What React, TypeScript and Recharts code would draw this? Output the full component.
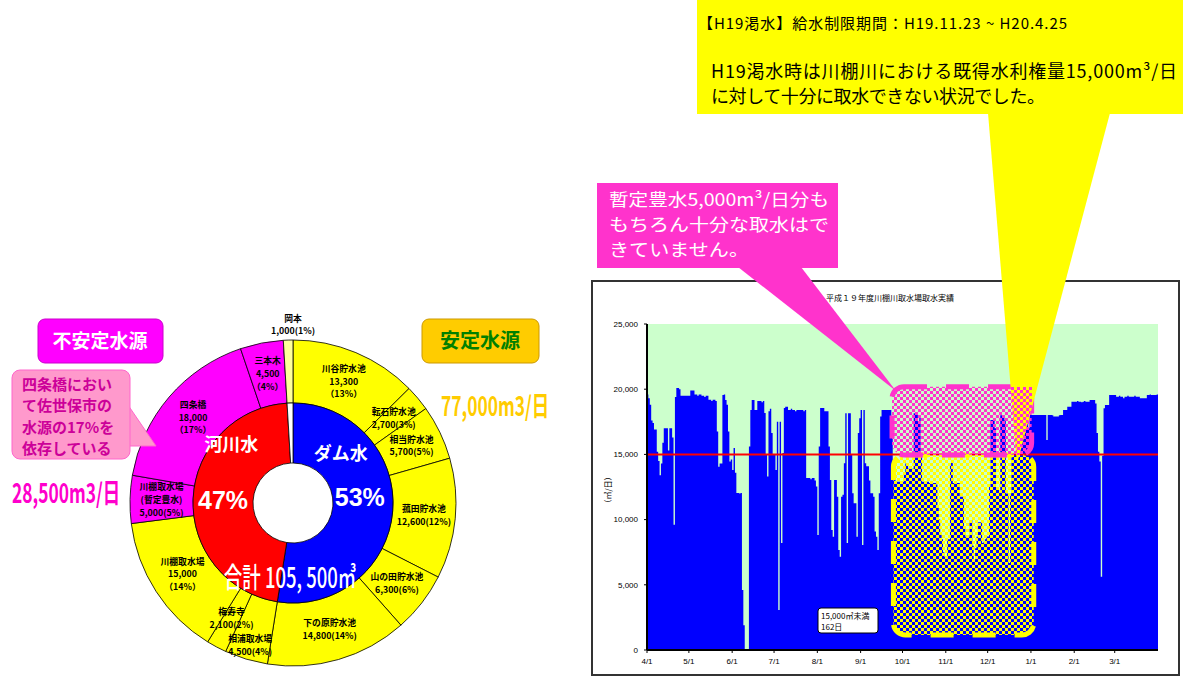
import React from 'react'
import {
  PieChart, Pie, Cell, ComposedChart, Area, XAxis, YAxis, CartesianGrid,
  ReferenceLine, ReferenceArea,
} from 'recharts'

// 水源別 内訳 (㎥/日)
const sourceNames = ['川谷貯水池', '転石貯水池', '相当貯水池', '菰田貯水池', '山の田貯水池', '下の原貯水池',
  '相浦取水場', '梅寿寺', '川棚取水場', '川棚取水場\n(暫定豊水)', '四条橋', '三本木', '岡本']
const sourceValues = [13300, 2700, 5700, 12600, 6300, 14800, 4500, 2100, 15000, 5000, 18000, 4500, 1000]
const sourceKinds = ['stable', 'stable', 'stable', 'stable', 'stable', 'stable', 'stable', 'stable', 'stable',
  'unstable', 'unstable', 'unstable', 'other']

const typeNames = ['ダム水', '河川水', 'その他']
const typeValues = [55400, 49100, 1000]

// 川棚川取水場 日別取水量 H19.4.1 - H20.3.31 (㎥/日)
const apr = [19600, 19300, 18800, 17600, 17400, 16900, 16900, 15200, 14500, 13400, 14300, 15900, 17000, 17000, 17000,
  15300, 17000, 17000, 16300, 9600, 19400, 20100, 20100, 20000, 19500, 19500, 19500, 19500, 19500, 19500]
const may = [19500, 19900, 19900, 19900, 19600, 19600, 19500, 19600, 19600, 19500, 19500, 19400, 19500, 19500, 19200,
  19200, 19100, 19200, 19200, 19100, 16750, 14060, 14300, 14300, 19560, 19600, 19170, 18800, 16750, 14450, 14600]
const jun = [13800, 15500, 13600, 12040, 12040, 12000, 12040, 4600, 1900, 0, 0, 0, 15600, 18400, 19170,
  19170, 18400, 18400, 19100, 19100, 19100, 19000, 19100, 18170, 14960, 13300, 18300, 18500, 16640, 14960]
const jul = [14960, 13800, 17500, 3070, 17500, 8200, 15100, 18560, 18660, 18660, 18400, 18400, 18500, 18400, 18400,
  18300, 18400, 18400, 18400, 18400, 18400, 18300, 18400, 13190, 13190, 13190, 13100, 13190, 13190, 13000, 12530]
const aug = [8820, 15600, 18560, 18560, 18560, 18300, 18300, 18300, 15600, 13040, 9200, 8690, 13040, 13040, 11760,
  7670, 7160, 11760, 11900, 14320, 18150, 8200, 18150, 18150, 15000, 12020, 11250, 11250, 8690, 16640, 17770]
const sep = [18400, 8050, 18400, 14320, 14100, 14100, 13000, 12020, 12020, 11760, 9080, 8690, 7670, 12020, 17900,
  18400, 18400, 18400, 18400, 18400, 18400, 18400, 17700, 14000, 13500, 12900, 12900, 12900, 12900, 12900]
const oct = [12900, 13500, 14300, 14300, 13900, 13900, 13900, 13900, 18150, 18150, 18150, 17500, 18000, 15000, 12900,
  12900, 12900, 12900, 12900, 12800, 12800, 12800, 12800, 12800, 12700, 11000, 10000, 9000, 8500, 7500, 7160]
const nov = [7160, 8500, 8500, 14340, 14340, 12800, 12800, 12800, 12800, 12800, 11760, 11760, 11760, 9500, 8690,
  8690, 8690, 9970, 9970, 8000, 6900, 7800, 8690, 9800, 9800, 9800, 8200, 8300, 8500, 8700]
const dec = [8700, 12500, 17640, 17640, 17640, 17000, 12270, 12270, 12270, 18000, 18000, 18000, 17600, 12000, 12000,
  6670, 12000, 15000, 15000, 15000, 15000, 15500, 15870, 15870, 17260, 17260, 17260, 17260, 17500, 17000, 18030]
const jan = [18030, 18030, 18030, 18030, 18030, 18030, 18030, 18030, 18030, 18030, 18030, 16100, 18030, 18030, 18030,
  18000, 17900, 17900, 17900, 17900, 18000, 18030, 18030, 18400, 18400, 18400, 18660, 18660, 18660, 19040, 19040]
const feb = [19040, 19040, 19100, 19040, 19040, 19000, 19040, 19100, 19040, 19040, 19040, 19170, 19170, 19170, 19170,
  18900, 16640, 15210, 14450, 5620, 14900, 18530, 18790, 18790, 18790, 19560, 19560, 19560, 19560]
const mar = [19560, 19430, 19430, 19500, 19430, 19430, 19300, 19430, 19430, 19500, 19430, 19430, 19430, 19430, 19500,
  19430, 19430, 19430, 19300, 19300, 19300, 19300, 19300, 19560, 19560, 19600, 19560, 19560, 19560, 19560, 19600]

const monthLabels = ['4/1', '5/1', '6/1', '7/1', '8/1', '9/1', '10/1', '11/1', '12/1', '1/1', '2/1', '3/1']
const yTicks = [0, 5000, 10000, 15000, 20000, 25000]
const rightsLimit = 15000

// 渇水期の注記範囲 (日, ㎥/日)
const shortageBox = { x1: 176.5, x2: 277, y1: 1150, y2: 14960 }
const surplusBox = { x1: 175.5, x2: 275.5, y1: 14960, y2: 20190 }

const FONT_JP = '"Noto Sans CJK JP", "Noto Sans", sans-serif'
const FONT_EN = '"Liberation Sans", Arial, sans-serif'
const RAD = Math.PI / 180

const months = [apr, may, jun, jul, aug, sep, oct, nov, dec, jan, feb, mar]
const daily = months.flat()
const monthStarts: number[] = []
months.reduce((acc, m) => { monthStarts.push(acc); return acc + m.length }, 0)
const flowData = daily.map((v, i) => ({ day: i, flow: v }))
flowData.push({ day: daily.length, flow: daily[daily.length - 1] })

const kindColor: Record<string, string> = { stable: '#ffff00', unstable: '#ff00ff', other: '#ffff99' }
const typeColor = ['#0000ff', '#ff0000', '#ffffff']
const sourceData = sourceNames.map((n, i) => ({ name: n, value: sourceValues[i], kind: sourceKinds[i] }))
const typeData = typeNames.map((n, i) => ({ name: n, value: typeValues[i] }))
const sourceTotal = sourceValues.reduce((a, b) => a + b, 0)
const stableTotal = sourceData.filter(d => d.kind === 'stable').reduce((a, d) => a + d.value, 0)
const unstableTotal = sourceTotal - stableTotal
const stackedLabels = ['川谷貯水池', '川棚取水場', '四条橋', '三本木']
// small slices whose labels sit off the ring centre so they do not collide
const labelRadius: Record<string, number> = { '相浦取水場': 149, '梅寿寺': 131 }
const fmt = (v: number) => v.toLocaleString('en-US')

const renderSourceLabel = (p: any) => {
  const { cx, cy, midAngle, innerRadius, outerRadius, index } = p
  const name = sourceNames[index]
  const value = sourceValues[index]
  const pct = Math.round((value / sourceTotal) * 100)
  const nameLines = name.split('\n')
  const lines = stackedLabels.includes(name)
    ? [...nameLines, fmt(value), `（${pct}%）`]
    : [...nameLines, `${fmt(value)}(${pct}%)`]
  let x: number
  let y: number
  if (index === sourceNames.length - 1) {
    x = cx
    y = cy - outerRadius - 15
  } else {
    const r = labelRadius[name] ?? (innerRadius + outerRadius) / 2
    x = cx + r * Math.cos(-midAngle * RAD)
    y = cy + r * Math.sin(-midAngle * RAD)
  }
  const lh = 12.8
  const top = y - ((lines.length - 1) * lh) / 2 + 3
  return (
    <g key={`sl${index}`}>
      {lines.map((l, i) => (
        <text key={i} x={x} y={top + i * lh} textAnchor="middle" fontSize={8.8} fontWeight={700}
          fontFamily={FONT_JP} fill="#000">{l}</text>
      ))}
    </g>
  )
}

const renderTypeLabel = (p: any) => {
  const { cx, cy, midAngle, index } = p
  if (index > 1) return <g key={`tl${index}`} />
  const pct = Math.round((typeValues[index] / sourceTotal) * 100)
  const px = cx + 70 * Math.cos(-midAngle * RAD)
  const py = cy + 70 * Math.sin(-midAngle * RAD) + (index === 0 ? -12 : 0)
  const na = midAngle + (index === 0 ? 50 : -40)
  const nr = index === 0 ? 68 : 84
  const nx = cx + nr * Math.cos(-na * RAD)
  const ny = cy + nr * Math.sin(-na * RAD)
  return (
    <g key={`tl${index}`}>
      <text x={nx} y={ny + 5} textAnchor="middle" fontSize={18} fontWeight={700} fontFamily={FONT_JP} fill="#fff">
        {typeNames[index]}
      </text>
      <text x={px - (index === 0 ? 3 : 0)} y={py + 9} textAnchor="middle" fontSize={25} fontWeight={700} fontFamily={FONT_EN} fill="#fff">
        {pct}%
      </text>
    </g>
  )
}

const boxShape = (patternId: string, color: string) => (p: any) => (
  <rect x={p.x} y={p.y} width={p.width} height={p.height} rx={12} ry={12}
    fill={`url(#${patternId})`} stroke={color} strokeWidth={5} strokeDasharray="23 19" />
)

const Checker = ({ id, color }: { id: string; color: string }) => (
  <pattern id={id} width={6} height={6} patternUnits="userSpaceOnUse">
    <rect width={3} height={3} fill={color} />
    <rect x={3} y={3} width={3} height={3} fill={color} />
  </pattern>
)

const yellowTail = '988,113 1110,113 1017,464'

export default function App() {
  return (
    <div style={{ position: 'absolute', left: 0, top: 0, width: 1190, height: 677, background: '#fff', overflow: 'hidden' }}>
      <svg width={0} height={0} style={{ position: 'absolute' }}>
        <defs>
          <Checker id="chkY" color="#ffff00" />
          <Checker id="chkP" color="#ff33cc" />
          <clipPath id="tailClip"><polygon points={yellowTail} /></clipPath>
        </defs>
      </svg>

      <div style={{ position: 'absolute', left: 88, top: 298 }}>
        <PieChart width={400} height={400}>
          <Pie data={sourceData} dataKey="value" cx={200} cy={200} innerRadius={100} outerRadius={163}
            startAngle={90} endAngle={-270} stroke="#000" strokeWidth={0.8}
            label={renderSourceLabel} labelLine={false} isAnimationActive={false}>
            {sourceData.map((d, i) => <Cell key={i} fill={kindColor[d.kind]} />)}
          </Pie>
          <Pie data={typeData} dataKey="value" cx={200} cy={200} innerRadius={40} outerRadius={100}
            startAngle={90} endAngle={-270} stroke="#000" strokeWidth={0.8}
            label={renderTypeLabel} labelLine={false} isAnimationActive={false}>
            {typeData.map((d, i) => <Cell key={i} fill={typeColor[i]} />)}
          </Pie>
        </PieChart>
      </div>

      <div style={{ position: 'absolute', left: 591, top: 280 }}>
        <ComposedChart width={590} height={396} data={flowData} margin={{ top: 44, right: 23, bottom: 0, left: 0 }}>
          <CartesianGrid horizontal={false} vertical={false} fill="#ccffcc" />
          <XAxis dataKey="day" type="number" domain={[0, daily.length]} ticks={monthStarts} interval={0}
            tickFormatter={(d: number) => monthLabels[monthStarts.indexOf(d)]} height={26} allowDataOverflow
            tick={{ fontSize: 8, fill: '#000', fontFamily: FONT_EN }} tickSize={3} tickMargin={5}
            axisLine={{ stroke: '#000', strokeWidth: 2 }} tickLine={{ stroke: '#000' }} />
          <XAxis xAxisId="top" orientation="top" dataKey="day" type="number" domain={[0, daily.length]}
            height={0} tick={false} tickLine={false} axisLine={{ stroke: '#808080' }} />
          <YAxis domain={[0, 25000]} ticks={yTicks} width={56} tickFormatter={fmt} interval={0}
            tick={{ fontSize: 8, fill: '#000', fontFamily: FONT_EN }} tickSize={3} tickMargin={6}
            axisLine={{ stroke: '#000', strokeWidth: 2 }} tickLine={{ stroke: '#000' }} />
          <YAxis yAxisId="right" orientation="right" domain={[0, 25000]} width={0}
            tick={false} tickLine={false} axisLine={{ stroke: '#808080' }} />
          <Area dataKey="flow" type="stepAfter" fill="#0000ff" fillOpacity={1} stroke="none"
            dot={false} activeDot={false} isAnimationActive={false} />
          <ReferenceLine y={rightsLimit} stroke="#ff0000" strokeWidth={2} />
          <ReferenceArea {...shortageBox} zIndex={450} shape={boxShape('chkY', '#ffff00')} />
          <ReferenceArea {...surplusBox} zIndex={450} shape={boxShape('chkP', '#ff33cc')} />
        </ComposedChart>
      </div>

      <svg width={1190} height={677} style={{ position: 'absolute', left: 0, top: 0, pointerEvents: 'none' }}>
        {/* right chart frame, title, unit and legend */}
        <rect x={592} y={281} width={587} height={394} fill="none" stroke="#333" strokeWidth={2} />
        <text x={890} y={301} textAnchor="middle" fontSize={8} fontFamily={FONT_JP} fill="#000">平成１９年度川棚川取水場取水実績</text>
        <text transform="translate(611,490) rotate(-90)" textAnchor="middle" fontSize={8} fontFamily={FONT_JP} fill="#000">（㎥/日）</text>
        <rect x={818} y={608} width={60} height={25} rx={3} fill="#fff" stroke="#000" strokeWidth={1} />
        <text x={821} y={619} fontSize={8} fontFamily={FONT_JP} fill="#000">15,000㎥未満</text>
        <text x={821} y={630} fontSize={8} fontFamily={FONT_JP} fill="#000">162日</text>

        {/* yellow callout */}
        <polygon points={yellowTail} fill="#ffff00" />
        <g clipPath="url(#tailClip)">
          <rect x={892} y={387} width={140} height={68} fill="url(#chkP)" />
        </g>
        <rect x={697} y={0} width={486} height={114} fill="#ffff00" />
        <text x={698} y={29} fontSize={15} fontFamily={FONT_JP} fill="#000" textLength={369} lengthAdjust="spacing">
          【H19渇水】給水制限期間：H19.11.23 ~ H20.4.25
        </text>
        <text x={711} y={78} fontSize={18} fontFamily={FONT_JP} fill="#000" textLength={466} lengthAdjust="spacing">
          H19渇水時は川棚川における既得水利権量15,000m³/日
        </text>
        <text x={711} y={103} fontSize={18} fontFamily={FONT_JP} fill="#000" textLength={334} lengthAdjust="spacing">
          に対して十分に取水できない状況でした。
        </text>

        {/* pink callout */}
        <polygon points="738,267 801,267 896,391" fill="#ff33cc" />
        <rect x={597} y={183} width={241} height={85} fill="#ff33cc" />
        <text x={609} y={206} fontSize={17.5} fontFamily={FONT_JP} fill="#fff" textLength={220} lengthAdjust="spacingAndGlyphs">暫定豊水5,000m³/日分も</text>
        <text x={609} y={231} fontSize={17.5} fontFamily={FONT_JP} fill="#fff" textLength={220} lengthAdjust="spacingAndGlyphs">もちろん十分な取水はで</text>
        <text x={609} y={256} fontSize={17.5} fontFamily={FONT_JP} fill="#fff" textLength={140} lengthAdjust="spacingAndGlyphs">きていません。</text>

        {/* left side labels */}
        <rect x={38} y={319} width={125} height={44} rx={7} fill="#ff00ff" stroke="#cc00cc" />
        <text x={100} y={348} textAnchor="middle" fontSize={19} fontWeight={700} fontFamily={FONT_JP} fill="#fff">不安定水源</text>
        <rect x={422} y={319} width={117} height={44} rx={7} fill="#ffcc00" stroke="#cc9900" />
        <text x={480} y={348} textAnchor="middle" fontSize={20} fontWeight={700} fontFamily={FONT_JP} fill="#008000">安定水源</text>

        <polygon points="128,405 156,446 128,446" fill="#ff99cc" stroke="#ff66cc" />
        <rect x={12} y={370} width={118} height={89} rx={8} fill="#ff99cc" stroke="#ff66cc" />
        {['四条橋におい', 'て佐世保市の', '水源の17%を', '依存している'].map((l, i) => (
          <text key={l} x={22} y={390 + i * 21.3} fontSize={15} fontWeight={700} fontFamily={FONT_JP} fill="#cc0099">{l}</text>
        ))}

        <text transform="translate(12,503) scale(0.645,1)" fontSize={27} fontWeight={700} fontFamily={FONT_JP} fill="#ff00cc">
          {fmt(unstableTotal)}m3/日
        </text>
        <text transform="translate(441,416) scale(0.645,1)" fontSize={27} fontWeight={700} fontFamily={FONT_JP} fill="#ffcc00">
          {fmt(stableTotal)}m3/日
        </text>
        <text transform="translate(290,588) scale(0.66,1)" textAnchor="middle" fontSize={28} fontWeight={500} fontFamily={FONT_JP} fill="#fff">
          合計 {fmt(sourceTotal).replace(',', ', ')}㎥
        </text>
      </svg>
    </div>
  )
}
